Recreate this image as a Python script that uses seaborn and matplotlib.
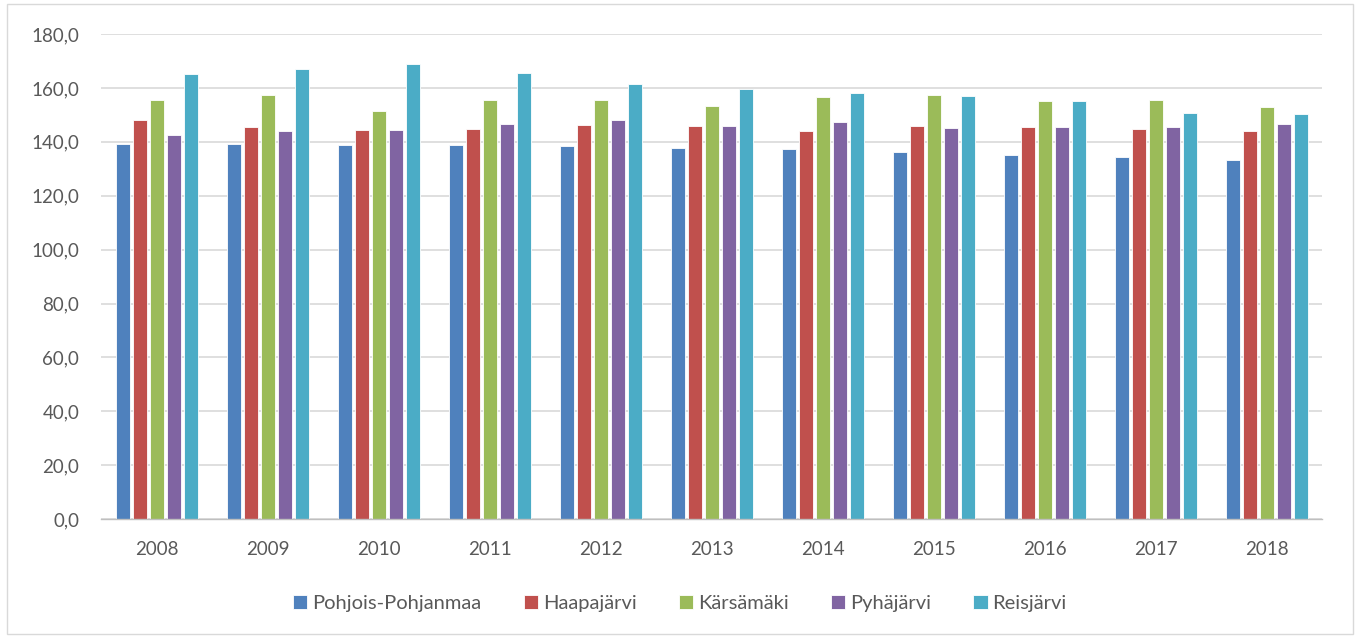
import matplotlib
matplotlib.use("Agg")
import matplotlib.pyplot as plt
from matplotlib.patches import Rectangle
import seaborn as sns
import pandas as pd

years = ["2008", "2009", "2010", "2011", "2012", "2013", "2014", "2015", "2016", "2017", "2018"]
pohjois_pohjanmaa = [139.3, 139.3, 139.0, 138.7, 138.3, 137.6, 137.3, 136.2, 135.1, 134.5, 133.4]
haapajarvi = [148.1, 145.5, 144.4, 144.7, 146.1, 146.0, 143.9, 145.8, 145.7, 144.8, 143.9]
karsamaki = [155.6, 157.5, 151.5, 155.5, 155.5, 153.3, 156.6, 157.5, 155.2, 155.6, 152.9]
pyhajarvi = [142.4, 143.9, 144.4, 146.5, 148.0, 145.8, 147.3, 145.2, 145.7, 145.7, 146.5]
reisjarvi = [165.2, 167.2, 168.8, 165.6, 161.5, 159.8, 158.2, 157.2, 155.0, 150.6, 150.5]

series_names = ["Pohjois-Pohjanmaa", "Haapajärvi", "Kärsämäki", "Pyhäjärvi", "Reisjärvi"]
series_values = [pohjois_pohjanmaa, haapajarvi, karsamaki, pyhajarvi, reisjarvi]
colors = ["#4F81BD", "#C0504D", "#9BBB59", "#8064A2", "#4BACC6"]

rows = []
for name, vals in zip(series_names, series_values):
    for y, v in zip(years, vals):
        rows.append({"year": y, "series": name, "value": v})
df = pd.DataFrame(rows)

sns.set_theme(style="white")
plt.rcParams["font.family"] = ["Lato", "DejaVu Sans"]

fig = plt.figure(figsize=(13.6, 6.37), dpi=100)
ax = fig.add_axes([0.0746, 0.185, 0.8978, 0.7615])

sns.barplot(data=df, x="year", y="value", hue="series", order=years,
            hue_order=series_names, palette=colors, width=0.766, gap=0.2,
            errorbar=None, ax=ax, saturation=1, edgecolor="white", linewidth=0.6)

ax.set_ylim(0, 180)
ax.set_yticks(range(0, 181, 20))
ax.set_yticklabels([f"{v},0" for v in range(0, 181, 20)])
ax.set_xlim(-0.5, len(years) - 0.5)
ax.grid(axis="y", color="#D9D9D9", linewidth=1.2)
ax.set_axisbelow(True)
for s in ["left", "right", "top"]:
    ax.spines[s].set_visible(False)
ax.spines["bottom"].set_color("#BFBFBF")
ax.spines["bottom"].set_linewidth(1.0)
ax.tick_params(axis="both", length=0, labelsize=13.5, colors="#595959")
ax.tick_params(axis="x", pad=16)
ax.tick_params(axis="y", pad=16)
ax.set_xlabel("")
ax.set_ylabel("")

handles, labels = ax.get_legend_handles_labels()
ax.legend_.remove()
fig.legend(handles, labels, loc="center", bbox_to_anchor=(0.5, 0.053), ncol=5,
           frameon=False, fontsize=14.5, handlelength=0.7, handleheight=0.7,
           handletextpad=0.25, columnspacing=2.1, labelcolor="#595959")

fig.patches.append(Rectangle((0.005, 0.005), 0.99, 0.988, transform=fig.transFigure,
                             fill=False, edgecolor="#D9D9D9", linewidth=1.0))

fig.savefig("out.png", dpi=100)
